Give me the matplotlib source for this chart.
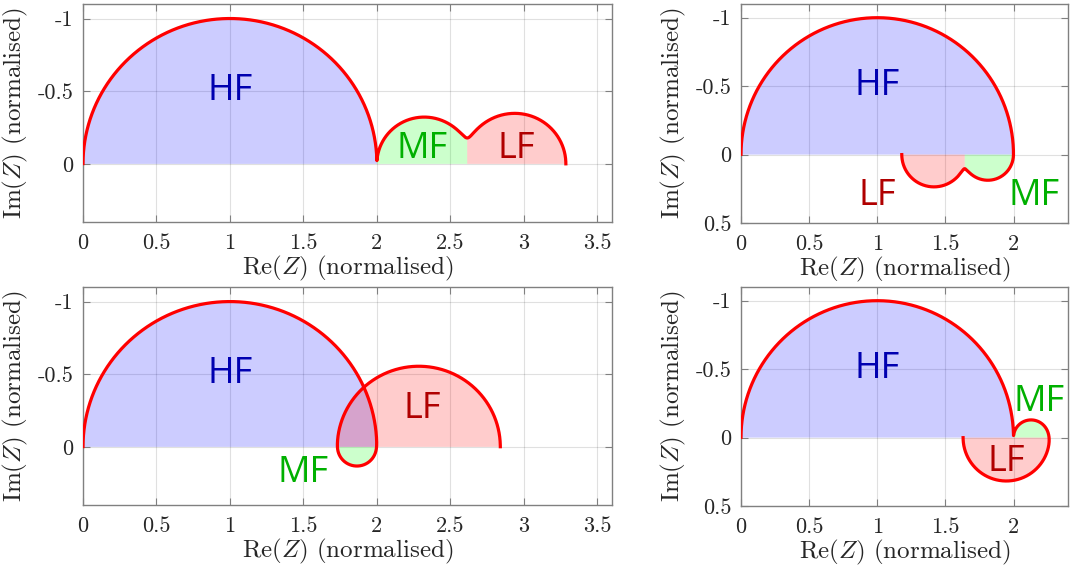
import numpy as np
import matplotlib
matplotlib.use('Agg')
import matplotlib.pyplot as plt

plt.rcParams['font.family'] = 'cmr10'
plt.rcParams['mathtext.fontset'] = 'cm'
plt.rcParams['axes.unicode_minus'] = False

# ---- data: RC elements (HF, MF, LF) for each panel ----
elements = ['HF', 'MF', 'LF']
R_a = [2.0, 0.616, 0.67]
tau_a = [1e-6, 1e-2, 5e-1]
R_b = [2.0, -0.36, -0.46]
tau_b = [1e-6, 1e-2, 6e-1]
R_c = [2.0, -0.27, 1.11]
tau_c = [1e-6, 1e-3, 1.0]
R_d = [2.0, 0.27, -0.64]
tau_d = [1e-6, 1e-2, 1.0]

label_pos_a = [(1.0, -0.5), (2.31, -0.1), (2.95, -0.1)]
label_pos_b = [(1.0, -0.5), (2.15, 0.30), (1.0, 0.30)]
label_pos_c = [(1.0, -0.5), (1.5, 0.18), (2.31, -0.26)]
label_pos_d = [(1.0, -0.5), (2.19, -0.26), (1.95, 0.18)]

xticks_wide = [0, 0.5, 1, 1.5, 2, 2.5, 3, 3.5]
xticklabels_wide = ['0', '0.5', '1', '1.5', '2', '2.5', '3', '3.5']
xticks_narrow = [0, 0.5, 1, 1.5, 2]
xticklabels_narrow = ['0', '0.5', '1', '1.5', '2']
yticks_wide = [-1, -0.5, 0]
yticklabels_wide = ['-1', '-0.5', '0']
yticks_narrow = [-1, -0.5, 0, 0.5]
yticklabels_narrow = ['-1', '-0.5', '0', '0.5']

fill_colors = ['#0000ff', '#00ff00', '#ff0000']
text_colors = ['#0000b0', '#00b000', '#b00000']

omega = np.logspace(9, -3, 8000)  # high to low frequency


def panel(ax, R, tau, labels_pos, xlim, ylim, xt, xtl, yt, ytl):
    Z = np.zeros_like(omega, dtype=complex)
    for r, t in zip(R, tau):
        Z += r / (1 + 1j * omega * t)
    # segment boundaries: min |Im| between adjacent time constants
    bounds = [0]
    for k in range(len(tau) - 1):
        mask = (omega <= 1 / tau[k]) & (omega >= 1 / tau[k + 1])
        idx = np.where(mask)[0]
        i = idx[np.argmin(np.abs(Z.imag[idx]))]
        bounds.append(i)
    bounds.append(len(omega) - 1)
    for k in range(len(tau)):
        seg = Z[bounds[k]:bounds[k + 1] + 1]
        xs = np.concatenate([seg.real, [seg.real[-1], seg.real[0]]])
        ys = np.concatenate([seg.imag, [0, 0]])
        ax.fill(xs, ys, color=fill_colors[k], alpha=0.2, lw=0, zorder=2)
    ax.plot(Z.real, Z.imag, color='#ff0000', lw=2.3, zorder=3)
    for name, (px, py), c in zip(elements, labels_pos, text_colors):
        ax.text(px, py, name, color=c, fontsize=26, family='Open Sans',
                ha='center', va='center', zorder=4)
    ax.set_xlim(*xlim)
    ax.set_ylim(*ylim)
    ax.set_xticks(xt)
    ax.set_xticklabels(xtl)
    ax.set_yticks(yt)
    ax.set_yticklabels(ytl)
    ax.set_axisbelow(True)
    ax.grid(True, color='#000000', alpha=0.12, lw=0.8)
    ax.tick_params(direction='in', top=True, right=True, length=5,
                   color='#808080', labelsize=16, labelcolor='#262626')
    ax.tick_params(axis='x', pad=8)
    ax.tick_params(axis='y', pad=7)
    for s in ax.spines.values():
        s.set_color('#808080')
        s.set_linewidth(1.0)
    ax.set_xlabel(r'Re$(Z)$ (normalised)', fontsize=18, color='#262626', labelpad=1)
    ax.set_ylabel(r'Im$(Z)$ (normalised)', fontsize=18, color='#262626', labelpad=5)


fig = plt.figure(figsize=(10.73, 5.69), dpi=100)
W, H = 1073, 569


def axes_px(l, t, r, b):
    return fig.add_axes([l / W, 1 - b / H, (r - l) / W, (b - t) / H])


ax1 = axes_px(83, 4, 612, 222)
ax2 = axes_px(741, 4, 1068, 223)
ax3 = axes_px(83, 287, 612, 505)
ax4 = axes_px(741, 287, 1068, 506)

panel(ax1, R_a, tau_a, label_pos_a, (0, 3.6), (0.4, -1.1),
      xticks_wide, xticklabels_wide, yticks_wide, yticklabels_wide)
panel(ax2, R_b, tau_b, label_pos_b, (0, 2.4), (0.5, -1.1),
      xticks_narrow, xticklabels_narrow, yticks_narrow, yticklabels_narrow)
panel(ax3, R_c, tau_c, label_pos_c, (0, 3.6), (0.4, -1.1),
      xticks_wide, xticklabels_wide, yticks_wide, yticklabels_wide)
panel(ax4, R_d, tau_d, label_pos_d, (0, 2.4), (0.5, -1.1),
      xticks_narrow, xticklabels_narrow, yticks_narrow, yticklabels_narrow)

fig.savefig('out.png', dpi=100)
